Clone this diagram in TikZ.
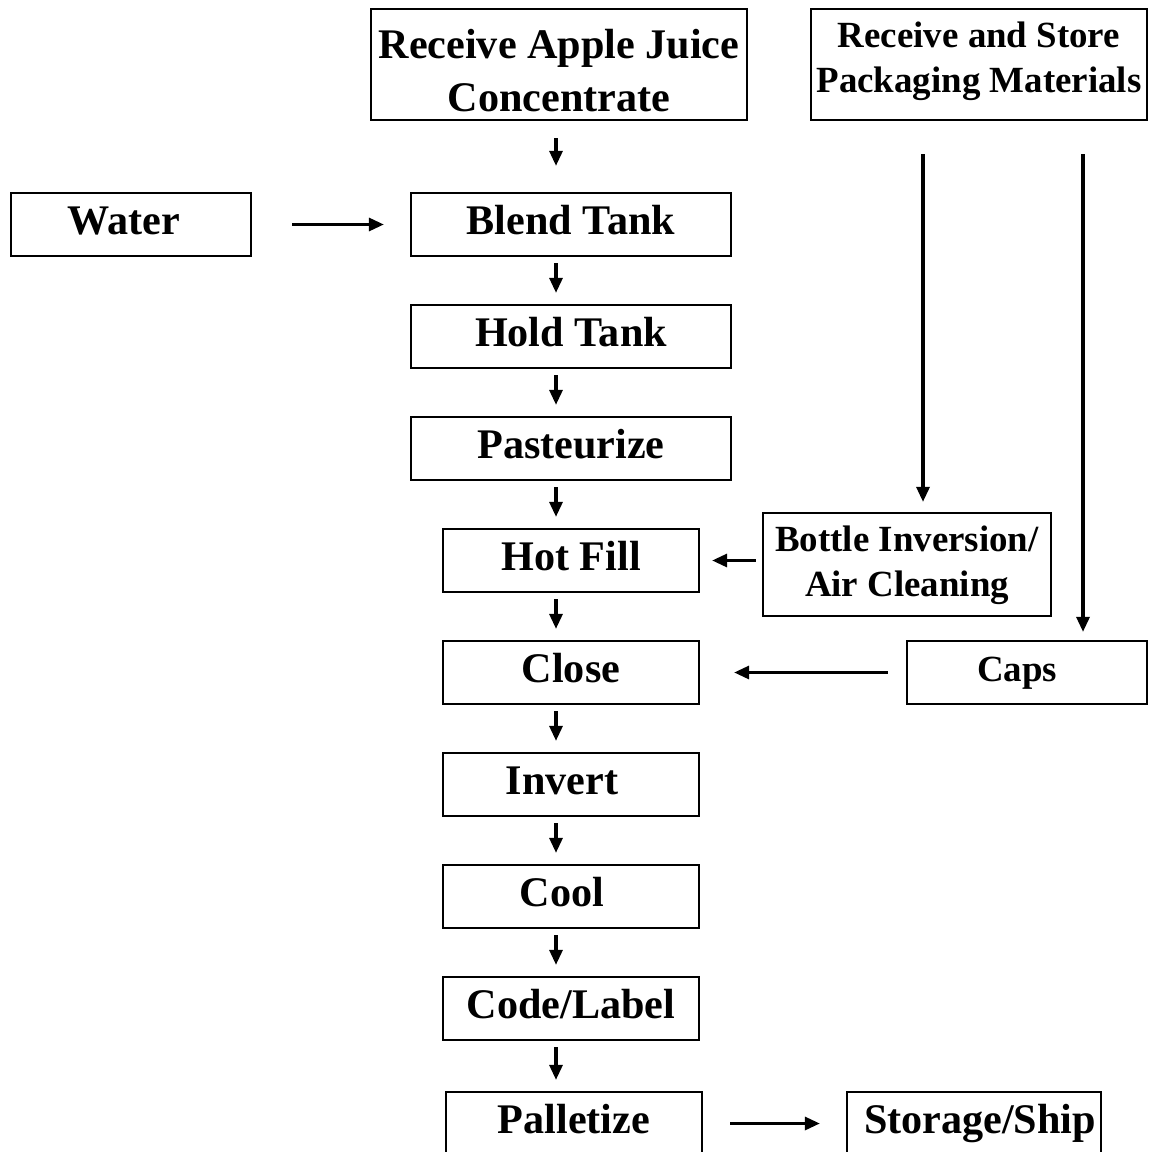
\documentclass[tikz,border=0pt]{standalone}
\usepackage{fontspec}
\setmainfont{Liberation Serif}
\usetikzlibrary{arrows.meta}

\begin{document}
\begin{tikzpicture}[line width=1.3pt, >={Triangle[length=0.3cm,width=0.26cm]}]
        \useasboundingbox (0,0) rectangle (23,-23.04);
        \tikzstyle{every node}=[draw, rectangle, inner sep=0pt, minimum height=1.26cm, align=center, font=\bfseries\fontsize{24}{28}\selectfont, text height=16pt, text depth=5pt]
        \tikzstyle{small}=[font=\bfseries\fontsize{21}{26}\selectfont, text height=14pt, text depth=4pt]
        \tikzstyle{wide}=[minimum width=6.4cm]
        \tikzstyle{narrow}=[minimum width=5.12cm]
        \tikzstyle{flow}=[->, line width=1.8pt, shorten <=0.12cm, shorten >=0.22cm]
        % main line
        \node [minimum width=7.52cm, minimum height=2.22cm, font=\bfseries\fontsize{24}{30.6}\selectfont, text height=53.9pt, text depth=0pt] (juice) at (11.18,-1.29) {Receive Apple Juice\\Concentrate};
        \node [wide] (blend) at (11.42,-4.49) {Blend Tank};
        \node [wide] (hold) at (11.42,-6.73) {Hold Tank};
        \node [wide] (past) at (11.42,-8.97) {Pasteurize};
        \node [narrow] (hot) at (11.42,-11.21) {Hot Fill};
        \node [narrow] (close) at (11.42,-13.45) {Close};
        \node [narrow] (invert) at (11.42,-15.69) {Invert\hspace*{0.36cm}};
        \node [narrow] (cool) at (11.42,-17.93) {Cool\hspace*{0.36cm}};
        \node [narrow] (code) at (11.42,-20.17) {Code/Label};
        \node [narrow] (pallet) at (11.48,-22.47) {Palletize};
        % side inputs
        \node [minimum width=4.8cm] (water) at (2.62,-4.49) {Water\hspace*{0.3cm}};
        \node [small, minimum width=6.72cm, minimum height=2.22cm, text height=32.3pt, text depth=0pt] (pack) at (19.58,-1.29) {Receive and Store\\Packaging Materials};
        \node [small, minimum width=5.76cm, minimum height=2.06cm, text height=36.8pt, text depth=0pt] (bottle) at (18.14,-11.29) {Bottle Inversion/\\Air Cleaning};
        \node [small, minimum width=4.8cm] (caps) at (20.54,-13.45) {Caps\hspace*{0.4cm}};
        \node [minimum width=5.08cm] (store) at (19.48,-22.47) {\hspace*{0.24cm}Storage/Ship};
        \coordinate (axis) at (11.12,0);
        \coordinate (left) at (18.46,0);
        \coordinate (right) at (21.66,0);
        % arrows
        \draw [flow, shorten <=0.34cm, shorten >=0.52cm] (juice.south -| axis) -- (blend.north -| axis);
        \foreach \a/\b in {blend/hold, hold/past, past/hot, hot/close, close/invert, invert/cool, cool/code, code/pallet}
            \draw [flow] (\a.south -| axis) -- (\b.north -| axis);
        \draw [flow, shorten <=0.8cm, shorten >=0.52cm] (water) -- (blend);
        \draw [flow, shorten <=0.12cm, shorten >=0.24cm] (bottle.west |- hot) -- (hot);
        \draw [flow, shorten <=0.36cm, shorten >=0.68cm] (caps) -- (close);
        \draw [flow, shorten <=0.54cm, shorten >=0.52cm] (pallet) -- (store);
        \draw [flow, shorten <=0.66cm, shorten >=0.2cm] (pack.south -| left) -- (bottle.north -| left);
        \draw [flow, shorten <=0.66cm, shorten >=0.16cm] (pack.south -| right) -- (caps.north -| right);
    \end{tikzpicture}
\end{document}
